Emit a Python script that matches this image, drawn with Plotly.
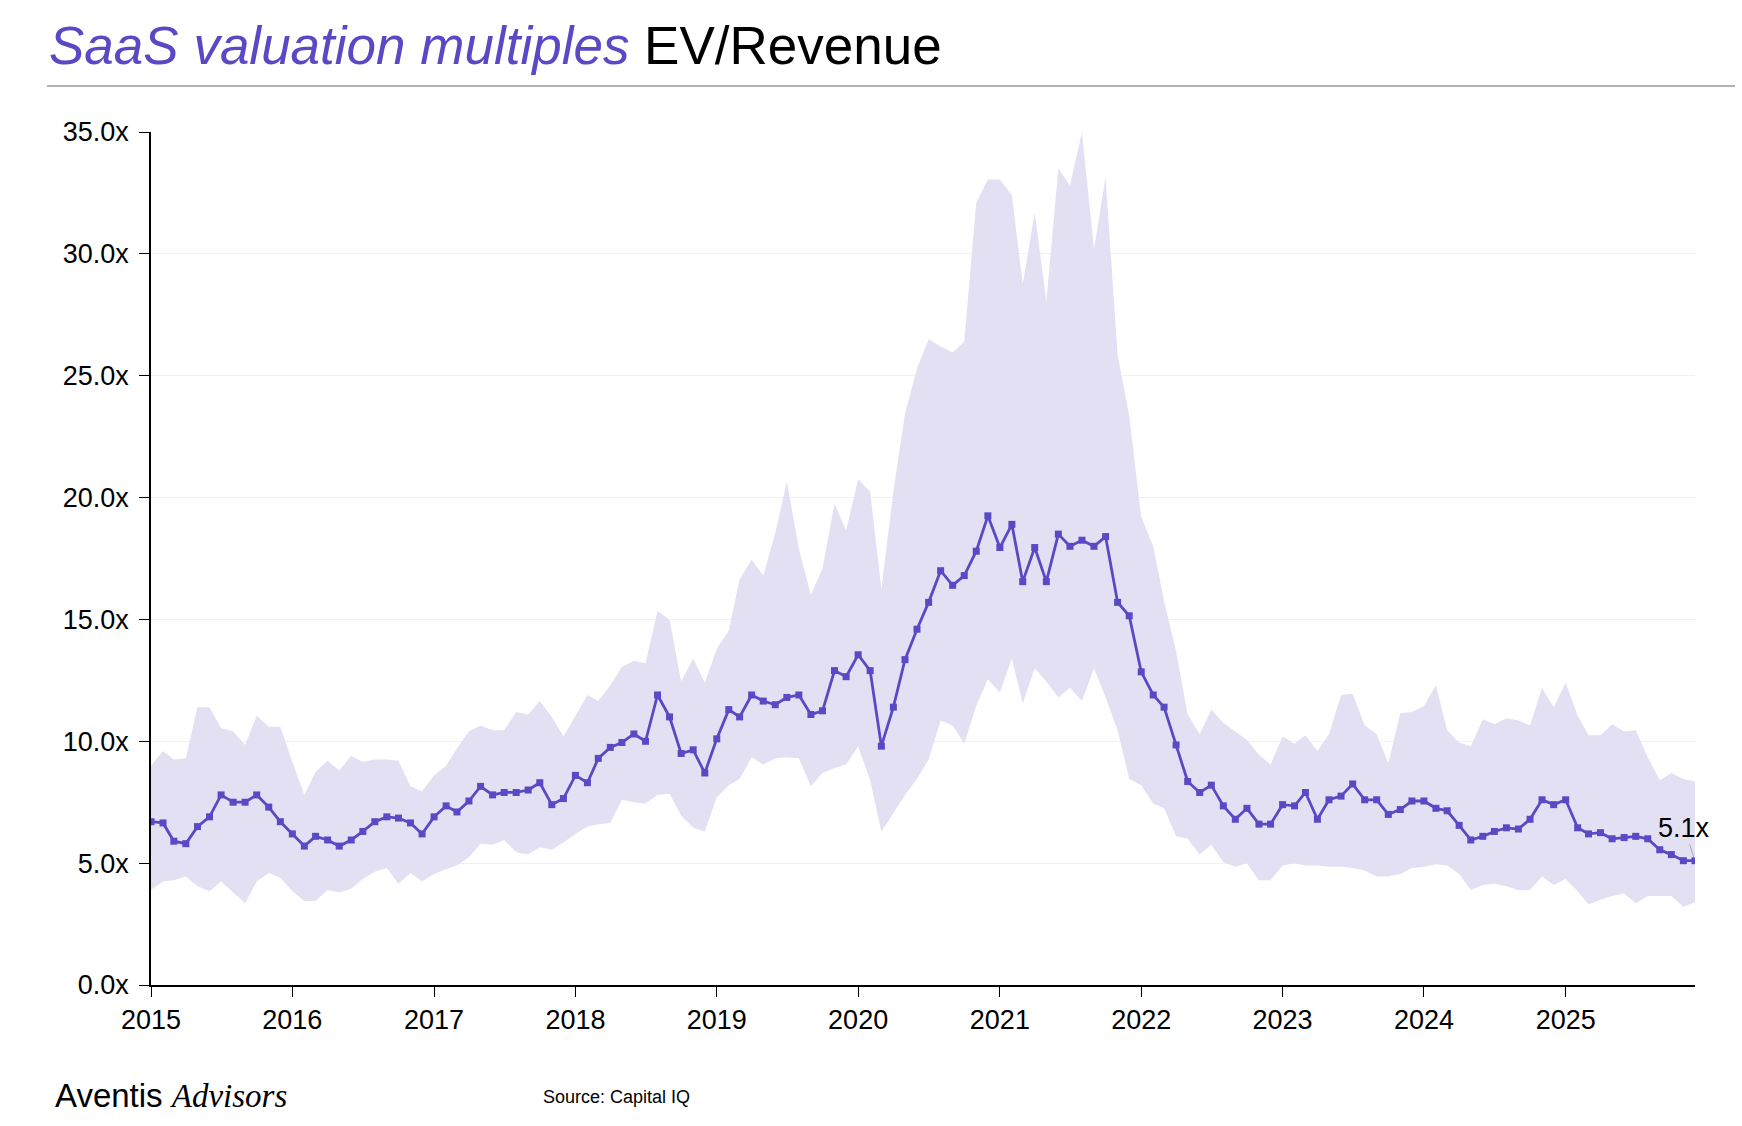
import pandas as pd
import plotly.graph_objects as go

# ---- data (monthly, Jan 2015 - Dec 2025) ----
start_month = "2015-01-01"
n_months = 132
months = pd.date_range(start_month, periods=n_months, freq="MS")

median = [
    6.7, 6.65, 5.9, 5.8, 6.5, 6.9, 7.8, 7.5, 7.5, 7.8, 7.3, 6.7,
    6.2, 5.7, 6.1, 5.95, 5.7, 5.95, 6.3, 6.7, 6.9, 6.85, 6.65, 6.2,
    6.9, 7.35, 7.1, 7.55, 8.15, 7.8, 7.9, 7.9, 8.0, 8.3, 7.4, 7.65,
    8.6, 8.3, 9.3, 9.75, 9.95, 10.3, 10.0, 11.9, 11.0, 9.5, 9.65, 8.7,
    10.1, 11.3, 11.0, 11.9, 11.65, 11.5, 11.8, 11.9, 11.1, 11.25, 12.9, 12.65,
    13.55, 12.9, 9.8, 11.4, 13.35, 14.6, 15.7, 17.0, 16.4, 16.8, 17.8, 19.25,
    17.95, 18.9, 16.55, 17.95, 16.55, 18.5, 18.0, 18.25, 18.0, 18.4, 15.7, 15.15,
    12.85, 11.9, 11.4, 9.85, 8.35, 7.9, 8.2, 7.35, 6.8, 7.25, 6.6, 6.6,
    7.4, 7.35, 7.9, 6.8, 7.6, 7.75, 8.25, 7.6, 7.6, 7.0, 7.2, 7.55,
    7.55, 7.25, 7.15, 6.55, 5.95, 6.1, 6.3, 6.45, 6.4, 6.8, 7.6, 7.4,
    7.6, 6.45, 6.2, 6.25, 6.0, 6.05, 6.1, 6.0, 5.55, 5.35, 5.1, 5.1,
]

upper = [
    9.0, 9.6, 9.25, 9.3, 11.4, 11.4, 10.55, 10.4, 9.85, 11.05, 10.6, 10.6,
    9.15, 7.8, 8.75, 9.2, 8.8, 9.4, 9.15, 9.25, 9.25, 9.2, 8.15, 7.95,
    8.6, 9.0, 9.7, 10.4, 10.65, 10.45, 10.45, 11.2, 11.1, 11.65, 11.0, 10.2,
    11.05, 11.9, 11.65, 12.3, 13.05, 13.3, 13.2, 15.35, 15.0, 12.45, 13.4, 12.4,
    13.8, 14.55, 16.65, 17.45, 16.8, 18.55, 20.65, 17.9, 16.0, 17.1, 19.75, 18.65,
    20.75, 20.25, 16.25, 20.25, 23.45, 25.3, 26.5, 26.2, 25.95, 26.4, 32.1, 33.05,
    33.05, 32.4, 28.75, 31.7, 28.05, 33.5, 32.8, 35.0, 30.2, 33.15, 25.85, 23.35,
    19.2, 18.0, 15.75, 13.7, 11.1, 10.3, 11.3, 10.75, 10.4, 10.05, 9.45, 9.05,
    10.2, 9.9, 10.25, 9.6, 10.3, 11.9, 11.95, 10.65, 10.3, 9.1, 11.15, 11.2,
    11.45, 12.3, 10.45, 9.95, 9.8, 10.9, 10.7, 10.95, 10.85, 10.65, 12.2, 11.4,
    12.4, 11.05, 10.25, 10.25, 10.7, 10.4, 10.45, 9.35, 8.4, 8.7, 8.45, 8.35,
]

lower = [
    3.9, 4.25, 4.3, 4.45, 4.05, 3.85, 4.25, 3.8, 3.35, 4.25, 4.6, 4.4,
    3.85, 3.45, 3.45, 3.9, 3.8, 3.95, 4.35, 4.65, 4.8, 4.15, 4.6, 4.25,
    4.55, 4.75, 4.9, 5.25, 5.8, 5.75, 5.95, 5.45, 5.35, 5.65, 5.55, 5.85,
    6.2, 6.5, 6.6, 6.65, 7.6, 7.5, 7.45, 7.8, 7.85, 6.95, 6.45, 6.3,
    7.7, 8.2, 8.45, 9.35, 9.05, 9.3, 9.35, 9.3, 8.15, 8.7, 8.9, 9.05,
    9.8, 8.4, 6.3, 7.05, 7.8, 8.45, 9.25, 10.85, 10.65, 9.9, 11.45, 12.55,
    12.0, 13.4, 11.55, 13.0, 12.45, 11.8, 12.2, 11.65, 13.0, 11.8, 10.45, 8.45,
    8.2, 7.45, 7.25, 6.1, 6.0, 5.35, 5.75, 5.05, 4.85, 5.0, 4.3, 4.3,
    4.9, 5.0, 4.9, 4.9, 4.85, 4.85, 4.8, 4.7, 4.45, 4.45, 4.55, 4.8,
    4.85, 4.95, 4.9, 4.55, 3.9, 4.1, 4.15, 4.05, 3.9, 3.9, 4.45, 4.1,
    4.35, 3.85, 3.3, 3.5, 3.65, 3.75, 3.35, 3.65, 3.65, 3.65, 3.2, 3.4,
]

year_ticks = [f"{y}-01-01" for y in range(2015, 2026)]
year_labels = [str(y) for y in range(2015, 2026)]
y_ticks = [0, 5, 10, 15, 20, 25, 30, 35]
y_labels = [f"{v:.1f}x" for v in y_ticks]

# ---- layout geometry ----
W, H = 1742, 1126
ML, MR, MT, MB = 151, 47, 132, 141
PW, PH = W - ML - MR, H - MT - MB

def px(x):
    return (x - ML) / PW

def py(y):
    return (H - MB - y) / PH

PURPLE = "#5a49c4"
BAND = "#e3e0f3"
FONT = "Liberation Sans, Arial, sans-serif"

fig = go.Figure()
fig.add_trace(go.Scatter(x=months, y=lower, mode="lines", line=dict(width=0, color=BAND),
                         hoverinfo="skip", showlegend=False))
fig.add_trace(go.Scatter(x=months, y=upper, mode="lines", line=dict(width=0, color=BAND),
                         fill="tonexty", fillcolor=BAND, hoverinfo="skip", showlegend=False))
fig.add_trace(go.Scatter(x=months, y=median, mode="lines+markers",
                         line=dict(color=PURPLE, width=2.8),
                         marker=dict(symbol="square", size=7, color=PURPLE),
                         showlegend=False))

fig.update_layout(
    width=W, height=H,
    margin=dict(l=ML, r=MR, t=MT, b=MB),
    paper_bgcolor="white", plot_bgcolor="white",
    font=dict(family=FONT, color="black"),
    xaxis=dict(
        range=[months[0], months[-1]],
        tickvals=year_ticks, ticktext=year_labels,
        showgrid=False, showline=True, linecolor="black", linewidth=1.5,
        ticks="outside", ticklen=10, tickcolor="black", tickwidth=1.2,
        tickfont=dict(size=27, family=FONT, color="black"),
        zeroline=False,
    ),
    yaxis=dict(
        range=[0, 35], tickvals=y_ticks, ticktext=y_labels,
        showgrid=True, gridcolor="#f1f1f1", gridwidth=1,
        showline=True, linecolor="black", linewidth=1.5,
        ticks="outside", ticklen=10, tickcolor="black", tickwidth=1.2,
        tickfont=dict(size=27, family=FONT, color="black"),
        ticklabelstandoff=5,
        zeroline=False,
    ),
)

annotations = [
    dict(xref="paper", yref="paper", x=px(47), y=py(45), xanchor="left", yanchor="middle",
         showarrow=False,
         text=f"<i><span style='color:{PURPLE}'>SaaS valuation multiples</span></i> EV/Revenue",
         font=dict(size=53, family=FONT, color="black")),
    dict(xref="paper", yref="paper", x=px(53), y=py(1095), xanchor="left", yanchor="middle",
         showarrow=False,
         text="Aventis <i><span style='font-family:Liberation Serif, Times New Roman, serif'>Advisors</span></i>",
         font=dict(size=33, family=FONT, color="black")),
    dict(xref="paper", yref="paper", x=px(541), y=py(1097), xanchor="left", yanchor="middle",
         showarrow=False, text="Source: Capital IQ",
         font=dict(size=18, family=FONT, color="black")),
    dict(x=months[-1], y=median[-1], xref="x", yref="y",
         text=f"{median[-1]:.1f}x", showarrow=True, arrowhead=0, arrowwidth=1,
         arrowcolor="#aaaaaa", ax=-11, ay=-33, standoff=3,
         font=dict(size=27, family=FONT, color="black")),
]
fig.update_layout(annotations=annotations)

fig.add_shape(type="line", xref="paper", yref="paper",
              x0=px(47), x1=px(1735), y0=py(86), y1=py(86),
              line=dict(color="#666666", width=1.2))

fig.write_html("out.html",
               config={"displayModeBar": False},
               post_script="document.body.style.margin='0';document.body.style.overflow='hidden';")
